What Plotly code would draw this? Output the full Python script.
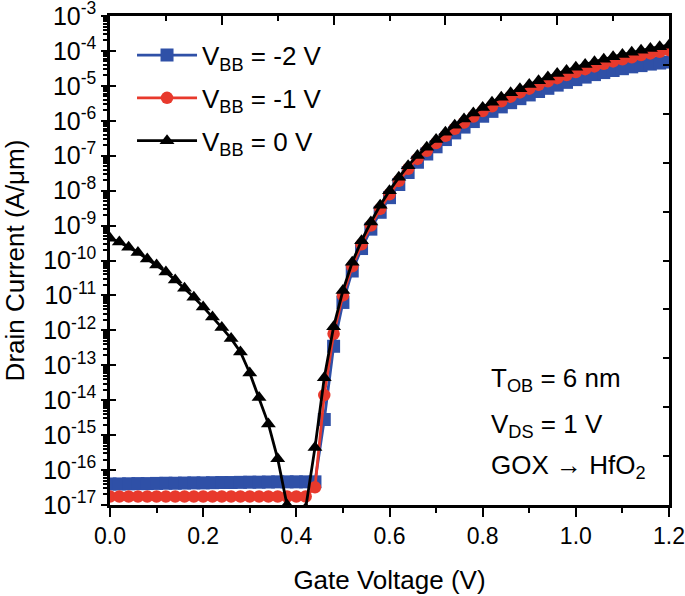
import plotly.graph_objects as go

# Gate voltage sweep (V)
vg = [0.00, 0.02, 0.04, 0.06, 0.08, 0.10, 0.12, 0.14, 0.16, 0.18,
      0.20, 0.22, 0.24, 0.26, 0.28, 0.30, 0.32, 0.34, 0.36, 0.38,
      0.40, 0.42, 0.44, 0.46, 0.48, 0.50, 0.52, 0.54, 0.56, 0.58,
      0.60, 0.62, 0.64, 0.66, 0.68, 0.70, 0.72, 0.74, 0.76, 0.78,
      0.80, 0.82, 0.84, 0.86, 0.88, 0.90, 0.92, 0.94, 0.96, 0.98,
      1.00, 1.02, 1.04, 1.06, 1.08, 1.10, 1.12, 1.14, 1.16, 1.18, 1.20]

# Drain current (A/um), V_BB = -2 V
id_vbb_m2 = [4.0e-17, 4.0e-17, 4.05e-17, 4.1e-17, 4.1e-17, 4.15e-17, 4.2e-17, 4.2e-17,
             4.25e-17, 4.3e-17, 4.3e-17, 4.35e-17, 4.4e-17, 4.4e-17, 4.45e-17, 4.5e-17,
             4.5e-17, 4.55e-17, 4.6e-17, 4.6e-17, 4.6e-17, 4.6e-17, 4.6e-17,
             2.8e-15, 3.5e-13,
             6.3e-12, 5.0e-11, 2.2e-10, 7.9e-10, 2.4e-9, 6.3e-9, 1.5e-8, 3.3e-8,
             6.5e-8, 1.12e-7, 1.8e-7, 2.9e-7, 4.5e-7, 6.6e-7, 9.5e-7, 1.35e-6,
             1.86e-6, 2.5e-6, 3.3e-6, 4.3e-6, 5.5e-6, 6.9e-6, 8.5e-6, 1.05e-5,
             1.26e-5, 1.51e-5, 1.78e-5, 2.1e-5, 2.4e-5, 2.75e-5, 3.1e-5, 3.5e-5,
             3.8e-5, 4.2e-5, 4.5e-5, 4.8e-5]

# V_BB = -1 V
id_vbb_m1 = [1.75e-17, 1.75e-17, 1.75e-17, 1.75e-17, 1.75e-17, 1.75e-17, 1.75e-17, 1.75e-17,
             1.75e-17, 1.75e-17, 1.75e-17, 1.75e-17, 1.75e-17, 1.75e-17, 1.75e-17, 1.75e-17,
             1.75e-17, 1.75e-17, 1.75e-17, 1.75e-17, 1.75e-17, 1.75e-17,
             3.2e-17, 1.4e-14, 8.0e-13,
             1.0e-11, 6.8e-11, 2.9e-10, 1.0e-9, 3.0e-9, 7.9e-9, 1.9e-8, 4.2e-8,
             8.1e-8, 1.38e-7, 2.3e-7, 3.7e-7, 5.9e-7, 8.9e-7, 1.32e-6, 1.9e-6,
             2.6e-6, 3.6e-6, 4.9e-6, 6.5e-6, 8.3e-6, 1.07e-5, 1.35e-5, 1.66e-5,
             2.04e-5, 2.5e-5, 3.0e-5, 3.6e-5, 4.3e-5, 5.0e-5, 5.75e-5, 6.6e-5,
             7.6e-5, 8.5e-5, 9.5e-5, 1.05e-4]

# V_BB = 0 V
id_vbb_0 = [4.3e-10, 3.4e-10, 2.4e-10, 1.7e-10, 1.1e-10, 7.4e-11, 4.7e-11, 2.75e-11,
            1.6e-11, 8.9e-12, 4.7e-12, 2.4e-12, 1.2e-12, 5.8e-13, 2.4e-13, 6.0e-14,
            1.2e-14, 2.1e-15, 2.1e-16, 1.0e-17, 1.6e-18, 8.0e-18,
            4.4e-16, 4.4e-14, 1.26e-12,
            1.38e-11, 8.9e-11, 3.7e-10, 1.26e-9, 3.8e-9, 1.0e-8, 2.4e-8, 5.2e-8,
            1.02e-7, 1.74e-7, 2.9e-7, 4.7e-7, 7.4e-7, 1.12e-6, 1.66e-6, 2.4e-6,
            3.4e-6, 4.7e-6, 6.3e-6, 8.3e-6, 1.1e-5, 1.41e-5, 1.78e-5, 2.24e-5,
            2.75e-5, 3.4e-5, 4.1e-5, 4.9e-5, 5.75e-5, 6.8e-5, 7.9e-5, 9.1e-5,
            1.05e-4, 1.17e-4, 1.32e-4, 1.45e-4]

# y tick labels
y_tickvals = [1e-17, 1e-16, 1e-15, 1e-14, 1e-13, 1e-12, 1e-11, 1e-10,
              1e-9, 1e-8, 1e-7, 1e-6, 1e-5, 1e-4, 1e-3]
y_ticktext = ["10<sup>-17</sup>", "10<sup>-16</sup>", "10<sup>-15</sup>", "10<sup>-14</sup>",
              "10<sup>-13</sup>", "10<sup>-12</sup>", "10<sup>-11</sup>", "10<sup>-10</sup>",
              "10<sup>-9</sup>", "10<sup>-8</sup>", "10<sup>-7</sup>", "10<sup>-6</sup>",
              "10<sup>-5</sup>", "10<sup>-4</sup>", "10<sup>-3</sup>"]

series_names = ["V<sub>BB</sub> = -2 V", "V<sub>BB</sub> = -1 V", "V<sub>BB</sub> = 0 V"]
series_colors = ["#2F50A7", "#E8392C", "#000000"]
series_symbols = ["square", "circle", "triangle-up"]
series_sizes = [13, 12.5, 13]

annotation_lines = ["T<sub>OB</sub> = 6 nm", "V<sub>DS</sub> = 1 V", "GOX \u2192 HfO<sub>2</sub>"]
annotation_y = [0.2566, 0.1626, 0.0783]

FONT = "Arial, Liberation Sans, Helvetica, sans-serif"

fig = go.Figure()
for name, ys, col, sym, sz in zip(series_names, [id_vbb_m2, id_vbb_m1, id_vbb_0],
                                   series_colors, series_symbols, series_sizes):
    fig.add_trace(go.Scatter(
        x=vg, y=ys, name=name, mode="lines+markers",
        line=dict(color=col, width=2.8),
        marker=dict(symbol=sym, size=sz, color=col, line=dict(width=0)),
        legendgroup=name, cliponaxis=True,
    ))

# invisible helper traces so the frame axes (top/right/inner ticks) get drawn
fig.add_trace(go.Scatter(x=[5], y=[1e-10], xaxis="x2", yaxis="y", mode="markers",
                         marker=dict(opacity=0), showlegend=False, hoverinfo="skip"))
fig.add_trace(go.Scatter(x=[0.5], y=[5], xaxis="x", yaxis="y2", mode="markers",
                         marker=dict(opacity=0), showlegend=False, hoverinfo="skip"))
fig.add_trace(go.Scatter(x=[0.5], y=[1e-10], xaxis="x", yaxis="y3", mode="markers",
                         marker=dict(opacity=0), showlegend=False, hoverinfo="skip"))

ann = []
for t, yy in zip(annotation_lines, annotation_y):
    ann.append(dict(text=t, xref="x", yref="paper", x=0.813, y=yy,
                    xanchor="left", yanchor="middle", showarrow=False,
                    font=dict(family=FONT, size=26, color="black")))

fig.update_layout(
    width=685, height=596,
    margin=dict(l=110, r=16, t=16, b=91),
    paper_bgcolor="white", plot_bgcolor="white",
    font=dict(family=FONT, color="black"),
    showlegend=True,
    legend=dict(x=0.0394, y=0.968, xanchor="left", yanchor="top",
                font=dict(family=FONT, size=26), bgcolor="rgba(0,0,0,0)",
                itemwidth=60, tracegroupgap=6),
    xaxis=dict(range=[0, 1.2], dtick=0.2, tickformat=".1f", automargin=False,
               showline=True, linewidth=2.5, linecolor="black", mirror=True,
               ticks="outside", ticklen=9, tickwidth=2, tickcolor="black",
               minor=dict(dtick=0.1, ticks="outside", ticklen=5, tickwidth=2, tickcolor="black"),
               showgrid=False, zeroline=False,
               tickfont=dict(size=23, family=FONT),
               title=dict(text="Gate Voltage (V)", font=dict(size=26, family=FONT), standoff=23)),
    yaxis=dict(type="log", range=[-17, -3], tickvals=y_tickvals, ticktext=y_ticktext,
               automargin=False, showline=True, linewidth=2.5, linecolor="black", mirror=True,
               ticks="outside", ticklen=6, tickwidth=2, tickcolor="black",
               ticklabeloverflow="allow",
               minor=dict(dtick="D1", ticks="outside", ticklen=4, tickwidth=1.5, tickcolor="black"),
               showgrid=False, zeroline=False,
               tickfont=dict(size=25, family=FONT),
               title=dict(text="Drain Current (A/\u03bcm)", font=dict(size=26, family=FONT), standoff=12)),
    yaxis3=dict(type="log", range=[-17, -3], dtick=1, overlaying="y", side="left", anchor="x",
                showline=False, ticks="inside", ticklen=6, tickwidth=2, tickcolor="black",
                showticklabels=False, showgrid=False, zeroline=False, automargin=False),
    xaxis2=dict(range=[0, 10], dtick=2, overlaying="x", side="top", anchor="y",
                showline=True, linewidth=2.5, linecolor="black", automargin=False,
                ticks="inside", ticklen=9, tickwidth=2, tickcolor="black",
                minor=dict(dtick=1, ticks="inside", ticklen=5, tickwidth=2, tickcolor="black"),
                showticklabels=False, showgrid=False, zeroline=False),
    yaxis2=dict(range=[0, 10], dtick=1, overlaying="y", side="right", anchor="x",
                showline=True, linewidth=2.5, linecolor="black", automargin=False,
                ticks="inside", ticklen=6, tickwidth=2, tickcolor="black",
                showticklabels=False, showgrid=False, zeroline=False),
    annotations=ann,
)

fig.write_html("out.html", config={"displayModeBar": False},
               post_script="document.body.style.margin='0px';")
